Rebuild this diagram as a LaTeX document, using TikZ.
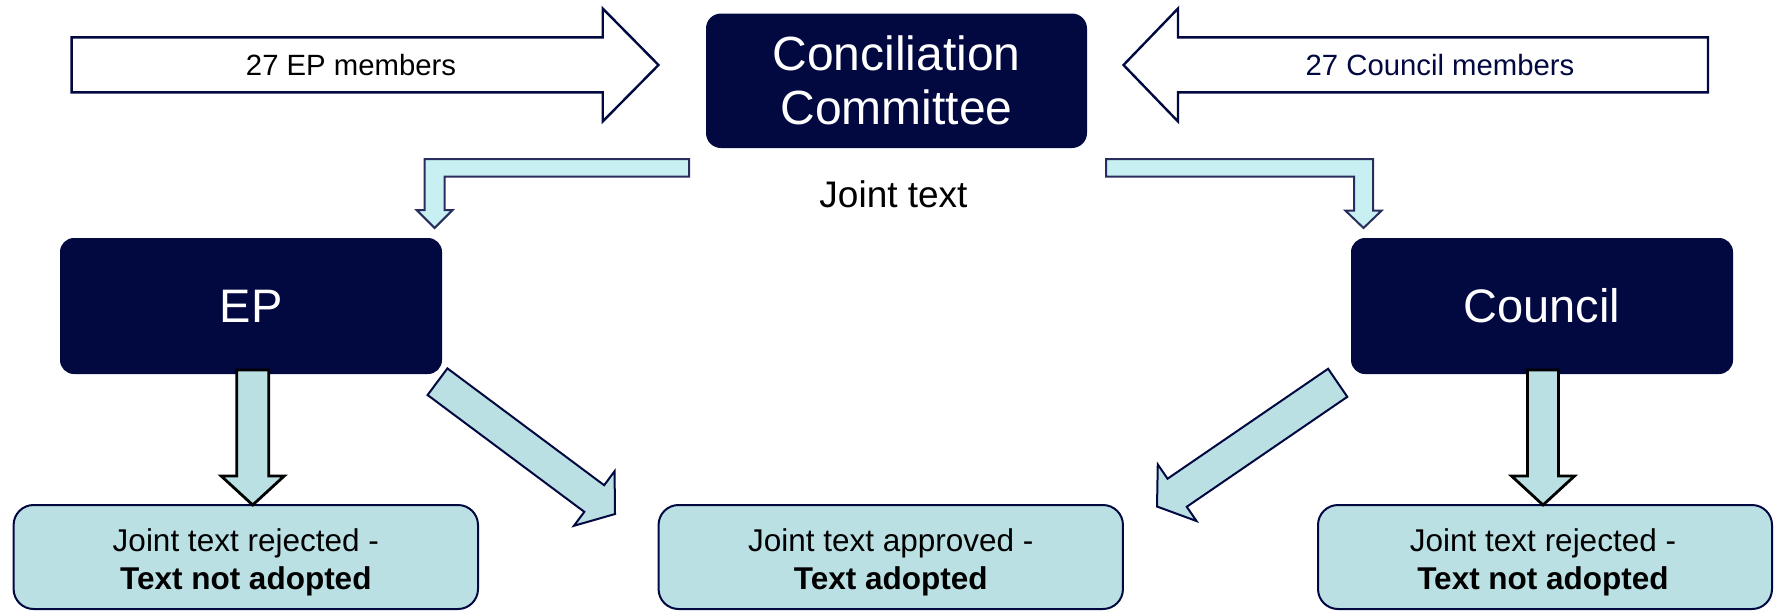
\documentclass[tikz,border=0pt]{standalone}
\usepackage{fontspec}
\setmainfont{Liberation Sans}
\definecolor{navy}{RGB}{2,8,64}
\definecolor{lblue}{RGB}{186,224,228}
\definecolor{bentfill}{RGB}{200,240,242}
\begin{document}
\begin{tikzpicture}[x=0.5pt,y=-0.5pt,
  darkbox/.style={fill=navy, draw=none, rounded corners=7pt, text=white, inner sep=0pt,
    minimum width=191pt, minimum height=68pt, align=center, font=\fontsize{23.5}{27}\selectfont},
  resbox/.style={fill=lblue, draw=navy, line width=1pt, rounded corners=10pt, inner sep=0pt,
    minimum height=52pt},
  restext/.style={inner sep=0pt, align=center, font=\fontsize{15.75}{19}\selectfont},
  bigarrow/.style={fill=white, draw=navy, line width=1.2pt, line join=miter},
  bentarrow/.style={fill=bentfill, draw=navy!85, line width=1pt},
  downarrow/.style={fill=lblue, draw=black, line width=1.4pt},
  diagarrow/.style={fill=lblue, draw=navy, line width=1pt},
  lbl/.style={inner sep=0pt, anchor=base}
]
\useasboundingbox (0,0) rectangle (1776,611);

% boxes
\node[darkbox, minimum width=190.5pt, minimum height=67.25pt, rounded corners=7.5pt, font=\fontsize{24}{27}\selectfont] (cc) at (896.5,80.75) {Conciliation\\Committee};
\node[darkbox] (ep) at (251,306) {EP};
\node[darkbox] (co) at (1542,306) {Council};
\node[resbox, minimum width=232.2pt] (rl) at (245.8,557) {};
\node[resbox, minimum width=232.2pt] (rm) at (890.75,557) {};
\node[resbox, minimum width=227pt] (rr) at (1545,557) {};
\node[restext] (rlt) at ([yshift=-2.5pt]rl.center) {Joint text rejected -\\\textbf{Text not adopted}};
\node[restext] (rmt) at ([yshift=-2.5pt]rm.center) {Joint text approved -\\\textbf{Text adopted}};
\node[restext] (rrt) at ([yshift=-2.5pt,xshift=-1pt]rr.center) {Joint text rejected -\\\textbf{Text not adopted}};

% top arrows
\draw[bigarrow] (71.6,37.4) -- (602.7,37.4) -- (602.7,8.5) -- (658.5,65) -- (602.7,121.5) -- (602.7,92.3) -- (71.6,92.3) -- cycle;
\draw[bigarrow] (1708,37.4) -- (1178,37.4) -- (1178,8.5) -- (1123.5,65) -- (1178,121.5) -- (1178,92.3) -- (1708,92.3) -- cycle;
\node[lbl, font=\fontsize{14.65}{17}\selectfont] (epm) at (351,75.5) {27 EP members};
\node[lbl, font=\fontsize{14.65}{17}\selectfont, text=navy] (com) at (1440,75.5) {27 Council members};

% joint text
\node[lbl, font=\fontsize{18.5}{22}\selectfont] (jt) at (893.5,207) {Joint text};

% bent arrows
\draw[bentarrow] (689,159) -- (424.6,159) -- (424.6,210) -- (416.6,210) -- (434.6,228) -- (452.6,210) -- (444.7,210) -- (444.7,176.5) -- (689,176.5) -- cycle;
\draw[bentarrow] (1106,159) -- (1373,159) -- (1373,210.7) -- (1381.5,210.7) -- (1363.5,228) -- (1345.5,210.7) -- (1354,210.7) -- (1354,176.5) -- (1106,176.5) -- cycle;

% vertical arrows
\draw[downarrow] (236.7,370) -- (236.7,476) -- (221.2,476) -- (252.7,505) -- (284.2,476) -- (268.7,476) -- (268.7,370) -- cycle;
\draw[downarrow] (1527.5,370) -- (1527.5,476) -- (1511.5,476) -- (1543,505) -- (1574.5,476) -- (1558.5,476) -- (1558.5,370) -- cycle;

% diagonal arrows
\begin{scope}[shift={(437.5,381.7)}, rotate=-36.7]
\draw[diagarrow] (0,-16.6) -- (195.5,-16.6) -- (195.5,-34) -- (221.4,0) -- (195.5,34) -- (195.5,16.6) -- (0,16.6) -- cycle;
\end{scope}
\begin{scope}[shift={(1337.7,382.8)}, rotate=214.4]
\draw[diagarrow] (0,-17) -- (194.6,-17) -- (194.6,-34.3) -- (219,0) -- (194.6,34.3) -- (194.6,17) -- (0,17) -- cycle;
\end{scope}
\end{tikzpicture}
\end{document}
